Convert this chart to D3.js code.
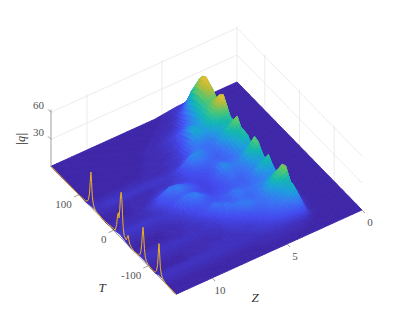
<!DOCTYPE html>
<html>
<head>
<meta charset="utf-8">
<script src="https://cdn.jsdelivr.net/npm/d3@7/dist/d3.min.js"></script>
<style>
html, body { margin: 0; padding: 0; background: #fff; }
svg { display: block; }
text { font-family: "Liberation Serif", serif; fill: #555; font-size: 11px; }
</style>
</head>
<body>
<script>
var width = 399, height = 332;

// Grid positions of the surface
var zValues = [0, 2, 2.5, 3, 3.5, 4, 4.5, 5, 5.5, 6, 6.5, 7, 7.5, 8, 8.5, 9, 9.5, 10, 10.5, 11, 11.5, 12, 12.4];
var tValues = [180, 170, 160, 150, 140, 130, 120, 110, 100, 90, 80, 70, 60, 50, 40, 30, 20, 10, 0,
    -10, -20, -30, -40, -50, -60, -70, -80, -90, -100, -110, -120, -130, -140, -150, -160, -170, -180];

// |q| on the surface, one row per T, one column per Z
var surfaceRows = [
    [0,0,0,0,3,3,2,1,0,0,0,0,0,0,0,0,0,0,0,0,0,0,0],
    [0,0,1,19,10,4,2,1,0,0,0,0,0,0,0,0,0,0,0,0,0,0,0],
    [0,0,2,33,24,9,3,1,1,0,0,0,0,0,0,0,0,0,0,0,0,0,0],
    [0,0,3,41,32,16,5,2,1,1,0,0,0,0,0,0,0,0,0,0,0,0,0],
    [0,0,3,44,35,20,8,3,2,1,1,0,0,0,0,0,0,0,0,0,0,0,0],
    [0,0,3,41,35,23,11,5,3,2,1,1,0,0,0,0,0,0,0,0,0,0,0],
    [0,0,3,38,34,24,14,9,5,3,2,1,1,0,0,0,0,0,0,0,0,0,0],
    [0,0,3,33,32,25,16,14,6,3,2,1,1,0,0,0,0,0,0,0,0,0,0],
    [0,0,3,40,34,26,18,19,7,4,2,1,1,1,0,0,0,0,0,0,0,0,0],
    [0,0,3,44,36,27,19,22,9,4,2,1,1,1,0,0,0,0,0,0,0,0,0],
    [0,0,3,36,31,25,19,22,12,5,3,2,1,1,1,0,0,0,0,0,0,0,0],
    [0,0,3,27,25,21,15,16,12,6,3,2,1,1,1,1,1,1,1,1,1,1,1],
    [0,0,3,28,24,18,12,12,14,9,4,3,2,2,2,2,2,2,2,2,2,2,2],
    [0,0,3,36,29,19,12,12,16,17,11,5,3,3,3,3,3,3,3,3,3,2,2],
    [0,0,3,28,24,16,10,11,14,15,9,5,3,2,2,1,1,1,1,1,1,1,1],
    [0,0,3,28,22,14,10,10,11,10,7,5,4,3,3,2,1,1,1,0,0,0,0],
    [0,0,3,27,20,13,10,12,9,7,6,5,6,7,6,4,2,1,1,0,0,0,0],
    [0,0,3,20,17,13,12,15,9,6,5,7,10,13,14,9,4,2,1,1,1,1,1],
    [0,0,3,33,24,15,14,17,10,6,5,8,11,15,11,8,5,2,1,1,1,1,1],
    [0,0,3,32,24,15,13,14,9,6,5,6,9,10,8,6,3,2,2,2,2,2,2],
    [0,0,3,24,20,14,11,12,8,6,5,8,13,14,9,5,3,3,3,3,3,3,3],
    [0,0,3,21,18,13,10,10,8,7,6,10,15,11,7,4,3,2,2,2,2,2,2],
    [0,0,3,29,23,14,10,10,9,8,8,8,10,8,5,3,2,1,1,1,1,1,1],
    [0,0,3,22,18,13,11,11,13,10,8,9,8,6,4,2,1,1,0,0,0,0,0],
    [0,0,3,18,16,14,13,12,14,9,10,13,8,5,3,2,1,1,0,0,0,0,0],
    [0,0,3,25,21,16,13,11,12,10,13,10,6,3,2,2,1,1,1,1,1,1,1],
    [0,0,3,34,28,19,13,11,13,14,11,7,4,3,2,2,2,2,2,2,2,2,2],
    [0,0,3,36,29,20,13,12,15,11,7,5,3,2,2,2,2,2,2,2,2,2,2],
    [0,0,3,24,21,16,12,11,10,7,5,4,2,2,1,1,1,1,1,1,1,1,1],
    [0,0,3,24,19,15,12,9,7,5,4,3,2,1,1,1,1,1,0,0,0,0,0],
    [0,0,2,21,16,12,10,7,5,3,3,2,2,2,2,1,1,1,0,0,0,0,0],
    [0,0,1,15,11,9,7,5,4,3,2,2,2,2,2,2,2,2,2,2,2,2,2],
    [0,0,1,7,6,5,4,3,3,2,2,2,2,2,2,2,2,2,2,2,2,2,2],
    [0,0,0,2,2,2,2,2,1,1,1,1,1,1,1,1,1,1,1,1,1,1,1],
    [0,0,0,0,1,1,1,1,1,1,0,0,0,0,0,0,0,0,0,0,0,0,0],
    [0,0,0,0,0,0,0,0,0,0,0,0,0,0,0,0,0,0,0,0,0,0,0],
    [0,0,0,0,0,0,0,0,0,0,0,0,0,0,0,0,0,0,0,0,0,0,0]
];

// Orange curve standing on the far edge
var lineT = [180, 150, 100, 80, 75, 72, 69, 67, 65, 63, 61, 58, 55, 50, 30, 10, 0, -5, -9, -12, -14, -16, -18, -20, -22, -24, -26, -28, -31, -34, -37, -40, -42, -44, -47, -52, -60,
    -72, -76, -79, -81, -83, -85, -87, -89, -92, -95, -100, -115, -120, -124, -127, -129, -131, -133, -135, -138, -142, -150, -180];
var lineQ = [0, 0, 0, 1, 3, 6, 14, 28, 39, 28, 13, 6, 3, 1, 0, 1, 2, 2, 10, 22, 25, 20, 30, 45, 51, 44, 28, 14, 6, 5, 4, 8, 11, 7, 3, 1, 0,
    1, 3, 8, 16, 28, 37, 28, 15, 6, 3, 1, 0, 1, 4, 12, 26, 37, 26, 12, 5, 2, 0, 0];

var zTicks = [0, 5, 10];
var tTicks = [100, 0, -100];
var qTicks = [30, 60];

var parula = ["#3e26a8", "#4349ee", "#3a70f5", "#1f9be0", "#12b8b0", "#4cc775", "#b5bd3a", "#f3bf35", "#f9fb15"];

var svg = d3.select("body").append("svg")
    .attr("width", width)
    .attr("height", height);

// Oblique projection: each data axis moves the point along its own screen direction
var zToX = d3.scaleLinear().domain([0, 12.4]).range([0, -186]);
var zToY = d3.scaleLinear().domain([0, 12.4]).range([0, 84.3]);
var tToX = d3.scaleLinear().domain([180, -180]).range([237, 362]);
var tToY = d3.scaleLinear().domain([180, -180]).range([82, 210]);
var qToY = d3.scaleLinear().domain([0, 60]).range([0, -54]);

var color = d3.scaleLinear()
    .domain(parula.map(function(d, i) { return 50 * i / (parula.length - 1); }))
    .range(parula)
    .clamp(true);

function px(z, t) { return zToX(z) + tToX(t); }
function py(z, t, q) { return zToY(z) + tToY(t) + qToY(q); }

// Back walls
var grid = svg.append("g").attr("stroke", "#e4e4e4").attr("stroke-width", 0.7).attr("fill", "none");
qTicks.forEach(function(q) {
    grid.append("line")
        .attr("x1", px(12.4, 180)).attr("y1", py(12.4, 180, q))
        .attr("x2", px(0, 180)).attr("y2", py(0, 180, q));
    grid.append("line")
        .attr("x1", px(0, 180)).attr("y1", py(0, 180, q))
        .attr("x2", px(0, -180)).attr("y2", py(0, -180, q));
});
zTicks.forEach(function(z) {
    grid.append("line")
        .attr("x1", px(z, 180)).attr("y1", py(z, 180, 0))
        .attr("x2", px(z, 180)).attr("y2", py(z, 180, 62));
});
tTicks.forEach(function(t) {
    grid.append("line")
        .attr("x1", px(0, t)).attr("y1", py(0, t, 0))
        .attr("x2", px(0, t)).attr("y2", py(0, t, 62));
});

// Axis lines
var axisColor = "#777";
svg.append("line")
    .attr("x1", px(12.4, 180)).attr("y1", py(12.4, 180, 0))
    .attr("x2", px(12.4, 180)).attr("y2", py(12.4, 180, 63))
    .attr("stroke", axisColor).attr("stroke-width", 0.7);
svg.append("line")
    .attr("x1", px(12.4, 180)).attr("y1", py(12.4, 180, 0))
    .attr("x2", px(12.4, -180)).attr("y2", py(12.4, -180, 0))
    .attr("stroke", axisColor).attr("stroke-width", 0.7);

// Surface, painted from the far corner forward. Each cell is split for smooth shading
var steps = 3;
var surface = svg.append("g");
function heightAt(i, j, a, b) {
    return (1 - a) * (1 - b) * surfaceRows[i][j] + (1 - a) * b * surfaceRows[i][j + 1] +
        a * (1 - b) * surfaceRows[i + 1][j] + a * b * surfaceRows[i + 1][j + 1];
}
for (var i = 0; i < tValues.length - 1; i++) {
    for (var s = 0; s < steps; s++) {
        for (var j = 0; j < zValues.length - 1; j++) {
            for (var r = 0; r < steps; r++) {
                var corners = [[s, r], [s, r + 1], [s + 1, r + 1], [s + 1, r]].map(function(c) {
                    var a = c[0] / steps, b = c[1] / steps;
                    var t = tValues[i] + a * (tValues[i + 1] - tValues[i]);
                    var z = zValues[j] + b * (zValues[j + 1] - zValues[j]);
                    var q = heightAt(i, j, a, b);
                    return [px(z, t), py(z, t, q), q];
                });
                var fill = color(d3.mean(corners, function(c) { return c[2]; }));
                surface.append("path")
                    .attr("d", "M" + corners.map(function(c) { return c[0].toFixed(2) + "," + c[1].toFixed(2); }).join("L") + "Z")
                    .attr("fill", fill)
                    .attr("stroke", fill)
                    .attr("stroke-width", 0.9)
                    .attr("stroke-linejoin", "round");
            }
        }
    }
}

// Curve on the far edge
var edgeLine = d3.line()
    .x(function(d) { return px(12.4, d[0]); })
    .y(function(d) { return py(12.4, d[0], d[1]); });
svg.append("path")
    .attr("d", edgeLine(d3.zip(lineT, lineQ)))
    .attr("fill", "none")
    .attr("stroke", "#edb120")
    .attr("stroke-width", 1);

// Ticks
var ticks = svg.append("g").attr("stroke", axisColor).attr("stroke-width", 0.7);
qTicks.forEach(function(q) {
    ticks.append("line")
        .attr("x1", px(12.4, 180)).attr("y1", py(12.4, 180, q))
        .attr("x2", px(12.4, 180) - 3).attr("y2", py(12.4, 180, q) - 3);
    svg.append("text").text(q)
        .attr("x", px(12.4, 180) - 7).attr("y", py(12.4, 180, q) - 3)
        .attr("text-anchor", "end");
});
tTicks.forEach(function(t) {
    ticks.append("line")
        .attr("x1", px(12.4, t)).attr("y1", py(12.4, t, 0))
        .attr("x2", px(12.4, t) - 5).attr("y2", py(12.4, t, 0) + 2.3);
});
svg.selectAll(".tLabel").data(tTicks).enter().append("text")
    .attr("class", "tLabel")
    .text(function(d) { return d; })
    .attr("x", function(d) { return px(12.4, d) - 7; })
    .attr("y", function(d) { return py(12.4, d, 0) + 13; })
    .attr("text-anchor", "end");
zTicks.forEach(function(z) {
    ticks.append("line")
        .attr("x1", px(z, -180)).attr("y1", py(z, -180, 0))
        .attr("x2", px(z, -180) + 3).attr("y2", py(z, -180, 0) + 3);
    svg.append("text").text(z)
        .attr("x", px(z, -180) + 8).attr("y", py(z, -180, 0) + 16)
        .attr("text-anchor", "middle");
});

// Axis titles
svg.append("text").text("T")
    .attr("x", 102).attr("y", 292)
    .attr("text-anchor", "middle")
    .style("font-style", "italic").style("font-size", "13px").style("fill", "#333");
svg.append("text").text("Z")
    .attr("x", 255).attr("y", 302)
    .attr("text-anchor", "middle")
    .style("font-style", "italic").style("font-size", "13px").style("fill", "#333");
svg.append("text").text("|q|")
    .attr("transform", "translate(25,139) rotate(-90)")
    .attr("text-anchor", "middle")
    .style("font-style", "italic").style("font-size", "12px").style("fill", "#333");
</script>
</body>
</html>
